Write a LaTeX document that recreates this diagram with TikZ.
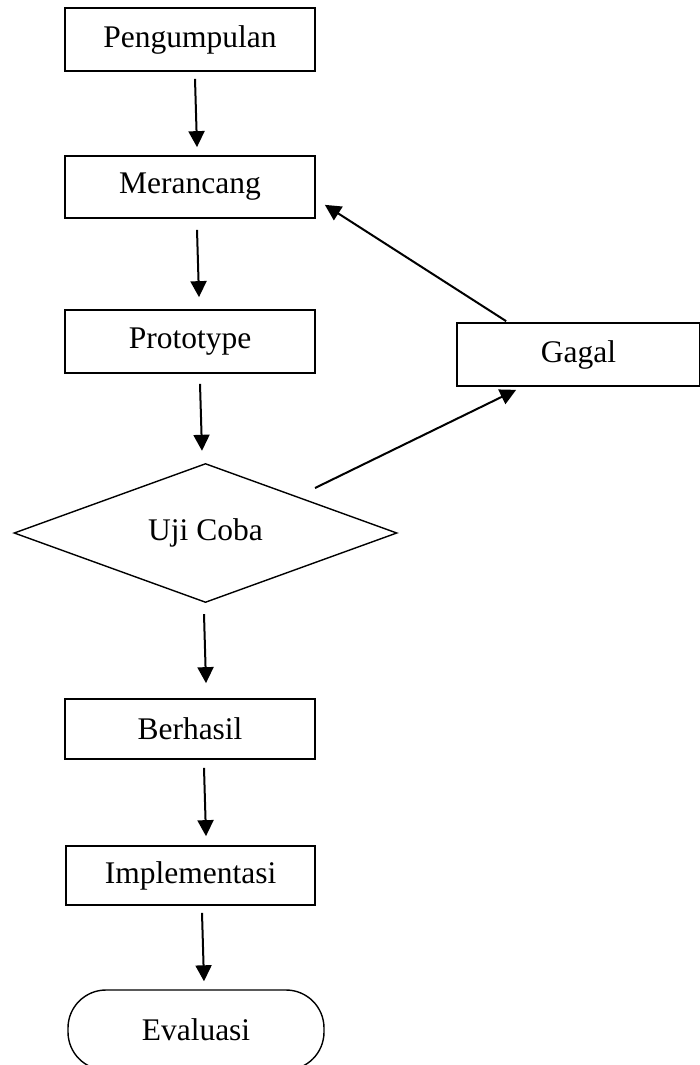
\documentclass[tikz,border=0pt]{standalone}
\usepackage{fontspec}
\setmainfont{Liberation Serif}
\usetikzlibrary{shapes.geometric,arrows.meta}
\begin{document}
\begin{tikzpicture}[x=1pt,y=-1pt,
  box/.style={draw,line width=1.7pt,rectangle,inner sep=0pt,font=\fontsize{31.5}{36}\selectfont},
  decision/.style={draw,line width=1.4pt,diamond,aspect=3,inner sep=0pt,font=\fontsize{31.5}{36}\selectfont},
  terminal/.style={draw,line width=1.4pt,rectangle,rounded corners=38pt,inner sep=0pt,font=\fontsize{31.5}{36}\selectfont},
  flow/.style={line width=2pt,-{Triangle[length=16pt,width=16pt]}}]
\useasboundingbox (0,0) rectangle (700,1065);
\node[box,minimum width=250pt,minimum height=63pt] (pen) at (190,39.5) {Pengumpulan};
\node[box,minimum width=250pt,minimum height=62pt] (mer) at (190,187) {Merancang};
\node[box,minimum width=250pt,minimum height=63pt] (pro) at (190,341.5) {Prototype};
\node[box,minimum width=243pt,minimum height=63pt] (gag) at (578.5,354.5) {Gagal};
\node[decision,minimum width=383pt,minimum height=139pt] (uji) at (205.5,533) {Uji Coba};
\node[box,minimum width=250pt,minimum height=60pt] (ber) at (190,729) {Berhasil};
\node[box,minimum width=249pt,minimum height=59pt] (imp) at (190.5,875.5) {Implementasi};
\node[terminal,minimum width=256pt,minimum height=80pt] (eva) at (196,1030) {Evaluasi};
\draw[flow] ([shift={(5,7)}]pen.south) -- ([shift={(7,-8)}]mer.north);
\draw[flow] ([shift={(7,11)}]mer.south) -- ([shift={(9,-12)}]pro.north);
\draw[flow] ([shift={(10,10)}]pro.south) -- ([shift={(-3.5,-12)}]uji.north);
\draw[flow] ([shift={(-1.5,11)}]uji.south) -- ([shift={(16,-15)}]ber.north);
\draw[flow] ([shift={(14,8)}]ber.south) -- ([shift={(15.5,-9)}]imp.north);
\draw[flow] ([shift={(11.5,7)}]imp.south) -- ([shift={(8,-8)}]eva.north);
\draw[flow] ([shift={(109.5,-45)}]uji.center) -- ([shift={(60,3)}]gag.south west);
\draw[flow] ([shift={(50,-1)}]gag.north west) -- ([shift={(9,-14)}]mer.south east);
\end{tikzpicture}
\end{document}
